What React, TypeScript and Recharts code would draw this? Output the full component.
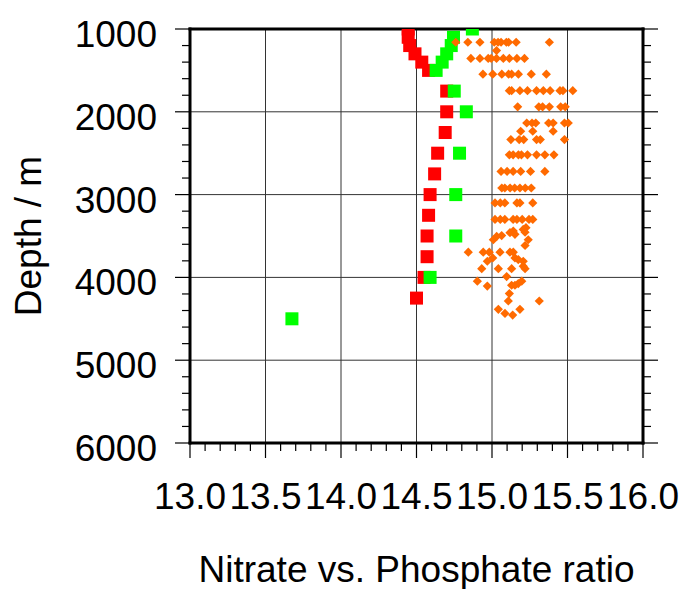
import { ScatterChart, Scatter, XAxis, YAxis, CartesianGrid } from 'recharts';

const FONT = '"Liberation Sans", Arial, Helvetica, sans-serif';

// axis ticks
const xMajor = [13.0, 13.5, 14.0, 14.5, 15.0, 15.5, 16.0];
const yMajor = [1000, 2000, 3000, 4000, 5000, 6000];
const xTicks = Array.from({ length: 31 }, (_, i) => (130 + i) / 10);
const yTicks = Array.from({ length: 26 }, (_, i) => 1000 + i * 200);

// red squares
const redDepth = [1000, 1100, 1200, 1300, 1400, 1500, 1750, 2000, 2250, 2500, 2750, 3000, 3250, 3500, 3750, 4000, 4250];
const redRatio = [14.445, 14.445, 14.455, 14.49, 14.535, 14.58, 14.70, 14.70, 14.69, 14.64, 14.62, 14.59, 14.58, 14.57, 14.57, 14.55, 14.50];

// green squares
const greenDepth = [1000, 1100, 1200, 1300, 1400, 1500, 1750, 2000, 2500, 3000, 3500, 4000, 4500];
const greenRatio = [14.87, 14.745, 14.73, 14.70, 14.67, 14.63, 14.75, 14.83, 14.785, 14.76, 14.76, 14.59, 13.675];

// orange diamonds
const orangeDepth = [
  1160, 1160, 1160, 1160, 1160, 1160, 1160, 1160, 1160, 1160,
  1260,
  1355, 1355, 1355, 1355, 1355, 1355, 1355, 1355, 1355,
  1545, 1545, 1545, 1545, 1545, 1545, 1545, 1545,
  1745, 1745, 1745, 1745, 1745, 1745, 1745, 1745, 1745, 1745,
  1940, 1940, 1940, 1940, 1940, 1940,
  2135, 2135, 2135, 2135, 2135, 2135, 2135,
  2235, 2235, 2235,
  2335, 2335, 2335, 2335, 2335, 2335,
  2520, 2520, 2520, 2520, 2520, 2520, 2520, 2520,
  2720, 2720, 2720, 2720, 2720, 2720,
  2920, 2920, 2920, 2920, 2920, 2920, 2920,
  3100, 3100, 3100, 3100, 3100, 3100,
  3300, 3300, 3300, 3300, 3300, 3300, 3300, 3300,
  3400, 3420, 3440, 3455, 3460, 3480, 3495, 3505, 3545, 3545, 3615,
  3695, 3695, 3695, 3695, 3695, 3695,
  3765, 3765, 3785, 3805, 3805, 3865,
  3895, 3895, 3895, 3895,
  3990, 4045, 4045, 4075, 4095, 4095, 4105,
  4195, 4285, 4285, 4385, 4385, 4435, 4455,
];
const orangeRatio = [
  14.76, 14.84, 14.92, 15.015, 15.04, 15.095, 15.11, 15.16, 15.38, 15.06,
  15.03,
  14.86, 14.92, 14.975, 14.995, 15.03, 15.075, 15.115, 15.165, 15.215,
  14.94, 15.005, 15.065, 15.11, 15.13, 15.175, 15.26, 15.36,
  15.115, 15.13, 15.185, 15.235, 15.295, 15.34, 15.385, 15.45, 15.47, 15.535,
  15.17, 15.31, 15.335, 15.38, 15.455, 15.485,
  15.23, 15.265, 15.29, 15.375, 15.405, 15.48, 15.505,
  15.19, 15.27, 15.405,
  15.125, 15.18, 15.21, 15.295, 15.32, 15.48,
  15.115, 15.14, 15.175, 15.195, 15.235, 15.295, 15.35, 15.41,
  15.06, 15.10, 15.14, 15.19, 15.255, 15.35,
  15.065, 15.085, 15.12, 15.15, 15.185, 15.22, 15.26,
  15.02, 15.055, 15.085, 15.165, 15.185, 15.27,
  15.02, 15.055, 15.085, 15.14, 15.165, 15.20, 15.245, 15.27,
  15.225, 15.207, 15.141, 15.219, 15.119, 15.152, 15.064, 15.031, 15.009, 15.24, 15.219,
  14.843, 14.942, 14.982, 15.053, 15.119, 15.141,
  15.005, 15.152, 15.174, 14.969, 15.207, 15.207,
  14.932, 15.042, 15.13, 15.219,
  15.097, 14.903, 15.197, 15.174, 15.13, 15.152, 14.969,
  15.115, 15.108, 15.313, 15.042, 15.185, 15.086, 15.137,
];

const redData = redDepth.map((d, i) => ({ ratio: redRatio[i], depth: d }));
const greenData = greenDepth.map((d, i) => ({ ratio: greenRatio[i], depth: d }));
const orangeData = orangeDepth.map((d, i) => ({ ratio: orangeRatio[i], depth: d }));

const isMajor = (list: number[], v: number) => list.some((m) => Math.abs(m - v) < 1e-6);

const labelStyle = { fontSize: 37, fontFamily: FONT, fill: '#000' };

function BottomTick({ x, y, payload }: any) {
  const major = isMajor(xMajor, payload.value);
  return (
    <g>
      <line x1={x} x2={x} y1={y} y2={y + (major ? 15 : 8)} stroke="#000" strokeWidth={1.2} />
      {major && (
        <text x={x} y={y + 66} textAnchor="middle" style={labelStyle}>
          {payload.value.toFixed(1)}
        </text>
      )}
    </g>
  );
}

function TopTick({ x, y, payload }: any) {
  const major = isMajor(xMajor, payload.value);
  return <line x1={x} x2={x} y1={y} y2={y - (major ? 15 : 8)} stroke="#000" strokeWidth={1.2} />;
}

function LeftTick({ x, y, payload }: any) {
  const major = isMajor(yMajor, payload.value);
  return (
    <g>
      <line x1={x - (major ? 15 : 8)} x2={x} y1={y} y2={y} stroke="#000" strokeWidth={1.2} />
      {major && (
        <text x={x - 33} y={y + 18} textAnchor="end" style={labelStyle}>
          {payload.value}
        </text>
      )}
    </g>
  );
}

function RightTick({ x, y, payload }: any) {
  const major = isMajor(yMajor, payload.value);
  return <line x1={x} x2={x + (major ? 15 : 8)} y1={y} y2={y} stroke="#000" strokeWidth={1.2} />;
}

const Square = ({ cx, cy, fill }: any) => <rect x={cx - 6.5} y={cy - 6.5} width={13} height={13} fill={fill} />;

const Diamond = ({ cx, cy, fill }: any) => {
  const r = 4.6;
  return <path d={`M${cx},${cy - r}L${cx + r},${cy}L${cx},${cy + r}L${cx - r},${cy}Z`} fill={fill} />;
};

const axisLine = { stroke: '#000', strokeWidth: 3, strokeLinecap: 'square' as const };

export default function App() {
  return (
    <div style={{ position: 'absolute', left: 0, top: 0, width: 683, height: 589, background: '#fff' }}>
      <ScatterChart width={683} height={589} margin={{ top: 0, right: 0, bottom: 0, left: 0 }}>
        <CartesianGrid
          xAxisId="b"
          yAxisId="l"
          verticalValues={xMajor}
          horizontalValues={yMajor}
          stroke="#333"
          strokeWidth={1}
        />
        <XAxis
          xAxisId="b"
          dataKey="ratio"
          type="number"
          domain={[13, 16]}
          allowDataOverflow
          ticks={xTicks}
          interval={0}
          height={146}
          tickSize={0}
          tickMargin={0}
          tick={<BottomTick />}
          axisLine={axisLine}
          label={{ value: 'Nitrate vs. Phosphate ratio', position: 'insideBottom', offset: 7, style: labelStyle }}
        />
        <XAxis
          xAxisId="t"
          orientation="top"
          type="number"
          domain={[13, 16]}
          allowDataOverflow
          ticks={xTicks}
          interval={0}
          height={29}
          tickSize={0}
          tickMargin={0}
          tick={<TopTick />}
          axisLine={axisLine}
        />
        <YAxis
          yAxisId="l"
          dataKey="depth"
          type="number"
          domain={[1000, 6000]}
          reversed
          allowDataOverflow
          ticks={yTicks}
          interval={0}
          width={190}
          tickSize={0}
          tickMargin={0}
          tick={<LeftTick />}
          axisLine={axisLine}
          label={{ value: 'Depth / m', angle: -90, position: 'insideLeft', offset: 28, style: { ...labelStyle, textAnchor: 'middle' } }}
        />
        <YAxis
          yAxisId="r"
          orientation="right"
          type="number"
          domain={[1000, 6000]}
          reversed
          allowDataOverflow
          ticks={yTicks}
          interval={0}
          width={40}
          tickSize={0}
          tickMargin={0}
          tick={<RightTick />}
          axisLine={axisLine}
        />
        <Scatter xAxisId="b" yAxisId="l" data={redData} fill="#ff0000" shape={<Square />} isAnimationActive={false} />
        <Scatter xAxisId="b" yAxisId="l" data={greenData} fill="#00ff00" shape={<Square />} isAnimationActive={false} />
        <Scatter xAxisId="b" yAxisId="l" data={orangeData} fill="#ff6a00" shape={<Diamond />} isAnimationActive={false} />
      </ScatterChart>
    </div>
  );
}
